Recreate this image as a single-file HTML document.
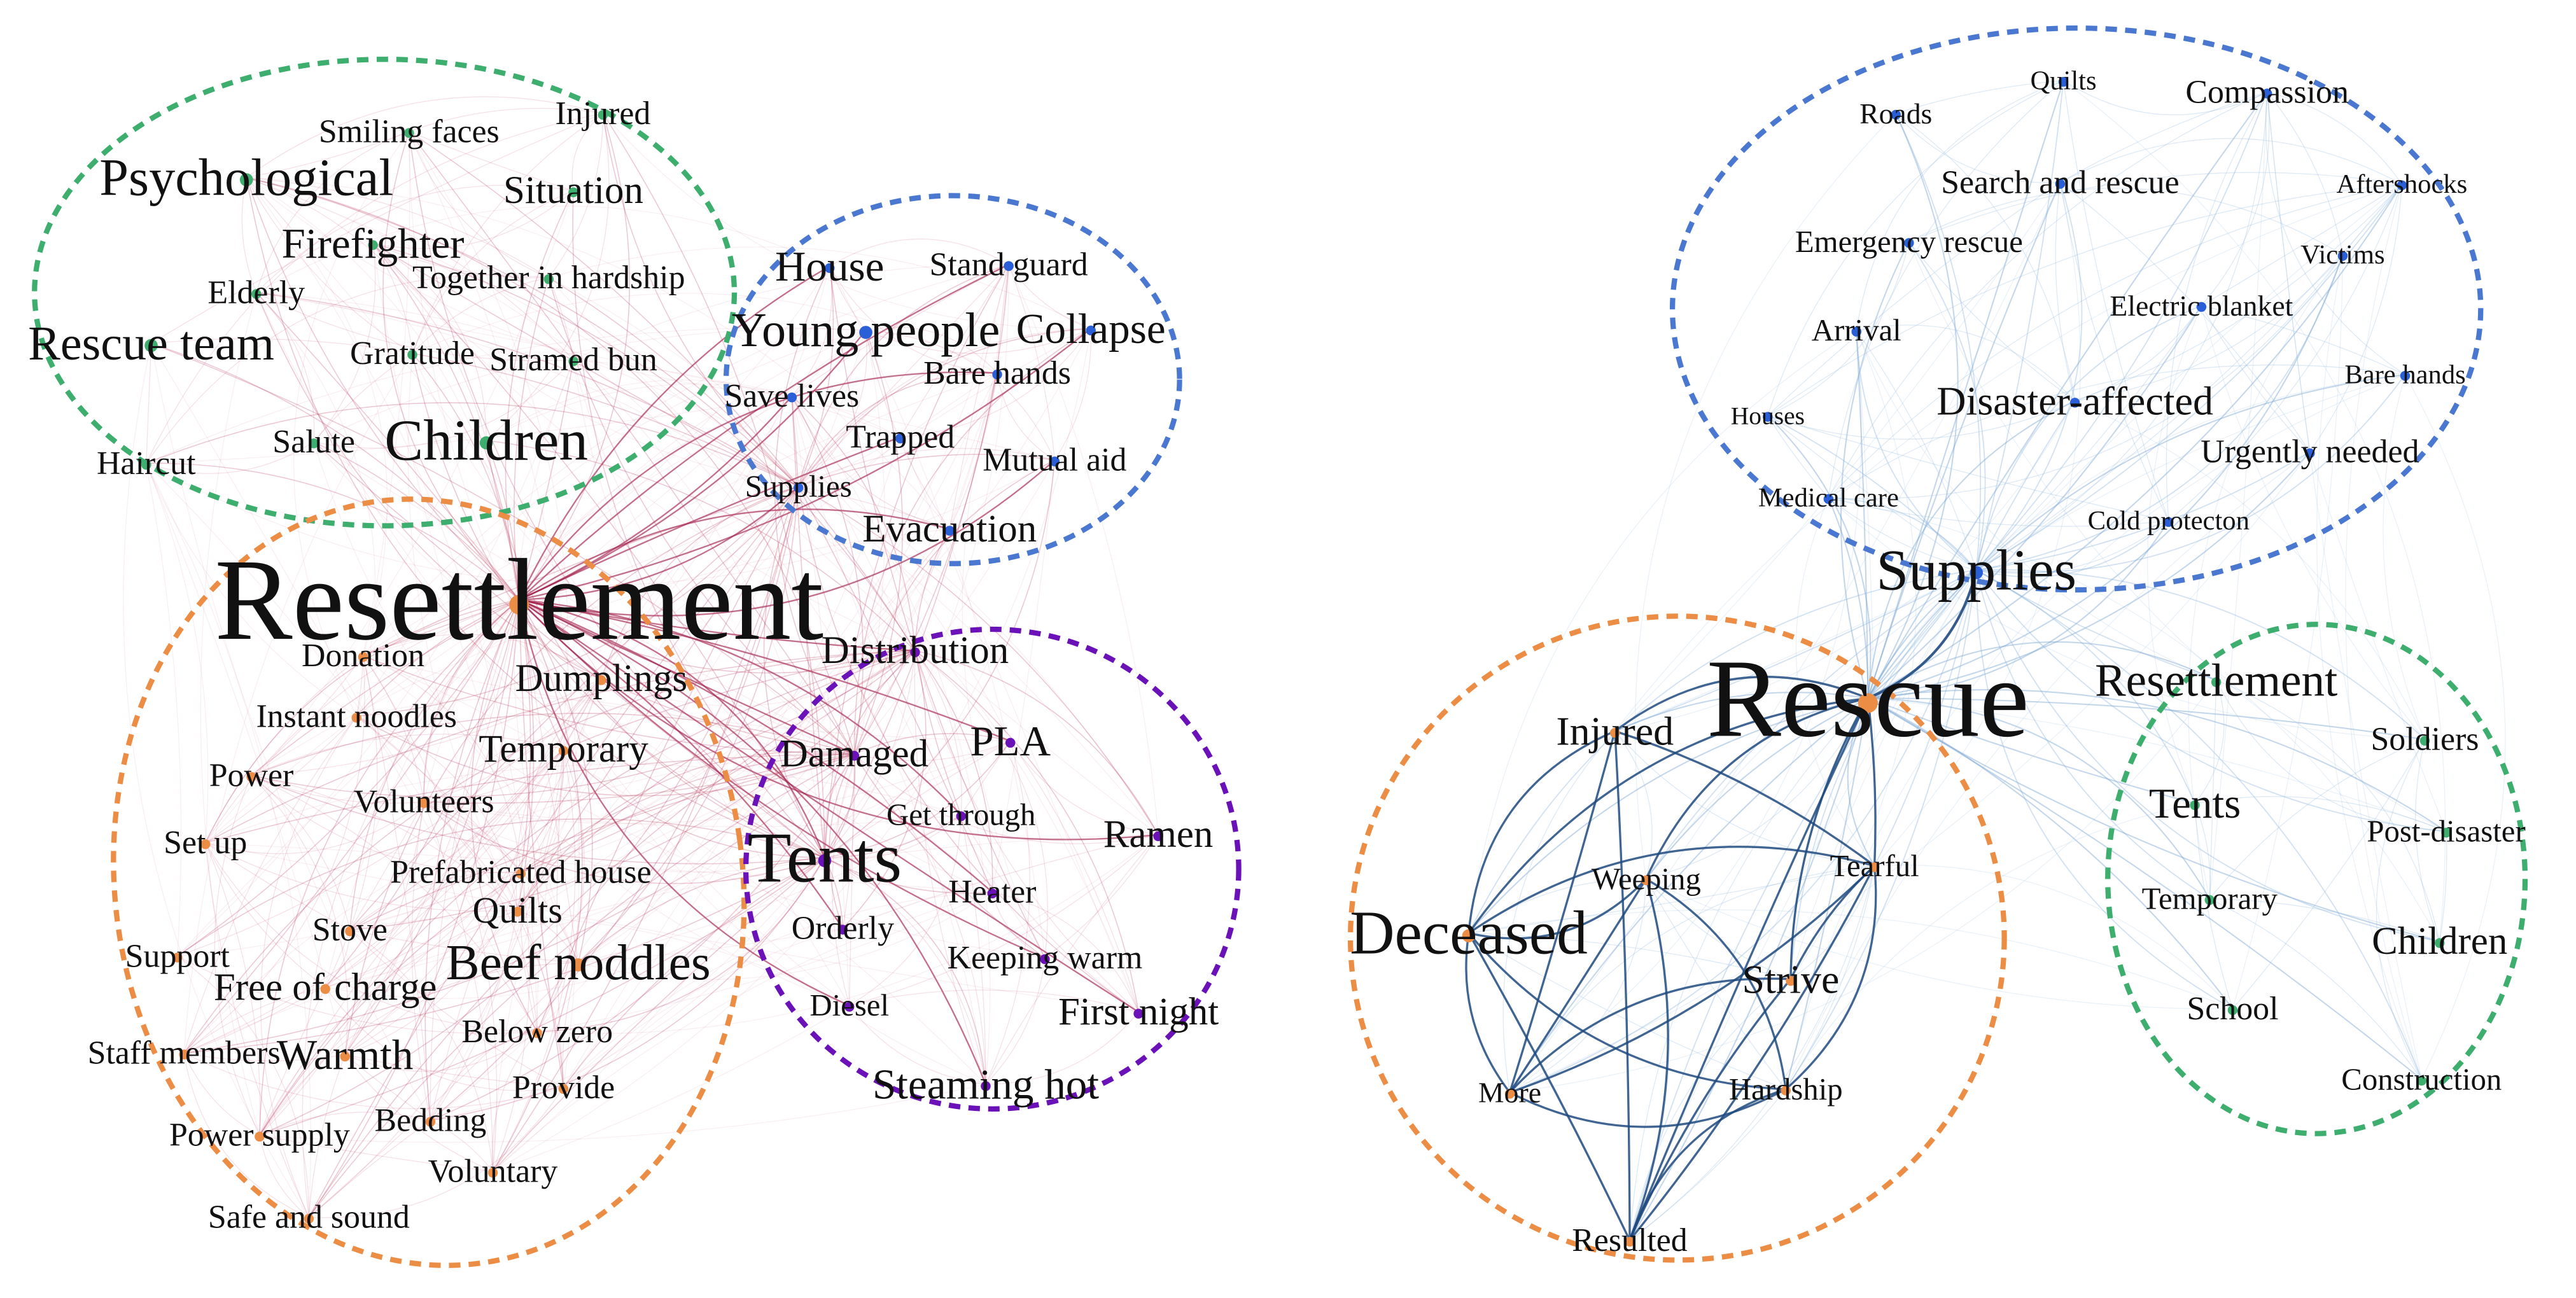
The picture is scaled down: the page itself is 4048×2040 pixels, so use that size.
<!DOCTYPE html>
<html><head><meta charset="utf-8"><style>
html,body{margin:0;padding:0;background:#fff;}
svg{display:block;}
text{font-family:"Liberation Serif",serif;fill:#111;text-anchor:middle;dominant-baseline:central;}
</style></head><body>
<svg id="s" width="4048" height="2040" viewBox="0 0 1568 790" xmlns="http://www.w3.org/2000/svg">
<g id="edges"></g>
<g id="ell" fill="none" stroke-width="3.2" stroke-dasharray="7,5">
<ellipse cx="234" cy="178" rx="213" ry="142" stroke="#3dae6e"/>
<ellipse cx="580" cy="231" rx="138" ry="112" stroke="#4a78d0"/>
<ellipse cx="261" cy="537" rx="191" ry="234" stroke="#ec8d45" transform="rotate(-8 261 537)"/>
<ellipse cx="604" cy="529" rx="150" ry="146" stroke="#6a12b8"/>
<ellipse cx="1264" cy="188" rx="246" ry="171" stroke="#4a78d0"/>
<ellipse cx="1021" cy="571" rx="199" ry="196" stroke="#ec8d45"/>
<ellipse cx="1410" cy="535" rx="127" ry="155" stroke="#3dae6e"/>
</g>
<g id="dots"></g>
<g id="labels"></g>
</svg>
<script>
var L=[
["Smiling faces",249,80,17,"g"],["Injured",367,69,17,"g"],["Psychological",150,108,27,"g"],["Situation",349,116,20,"g"],
["Firefighter",227,148,22,"g"],["Elderly",156,178,17,"g"],["Together in hardship",334,169,17,"g"],["Rescue team",92,209,25,"g"],
["Gratitude",251,215,17,"g"],["Stramed bun",349,219,17,"g"],["Salute",191,269,17,"g"],["Children",296,268,30,"g"],["Haircut",89,282,17,"g"],
["House",505,162,22,"b"],["Stand guard",614,161,17,"b"],["Young people",527,201,25,"b"],["Collapse",664,200,22,"b"],["Bare hands",607,227,17,"b"],
["Save lives",482,241,17,"b"],["Trapped",548,266,17,"b"],["Mutual aid",642,280,17,"b"],["Supplies",486,296,16,"b"],["Evacuation",578,322,20,"b"],
["Resettlement",316,365,60,"o"],["Donation",221,399,17,"o"],["Dumplings",366,413,20,"o"],["Instant noodles",217,436,17,"o"],["Temporary",343,456,20,"o"],
["Power",153,472,17,"o"],["Volunteers",258,488,17,"o"],["Set up",125,513,17,"o"],["Prefabricated house",317,531,17,"o"],["Quilts",315,554,19,"o"],
["Stove",213,566,17,"o"],["Support",108,582,17,"o"],["Beef noddles",352,586,26,"o"],["Free of charge",198,601,20,"o"],["Staff members",112,641,17,"o"],
["Warmth",210,642,22,"o"],["Below zero",327,628,17,"o"],["Provide",343,662,17,"o"],["Bedding",262,682,17,"o"],["Power supply",158,691,17,"o"],
["Voluntary",300,713,17,"o"],["Safe and sound",188,741,17,"o"],
["Distribution",557,396,20,"p"],["Damaged",520,459,20,"p"],["PLA",615,451,22,"p"],["Get through",585,496,16,"p"],["Ramen",705,508,20,"p"],
["Tents",502,522,37,"p"],["Heater",604,543,17,"p"],["Orderly",513,565,17,"p"],["Keeping warm",636,583,17,"p"],["Diesel",517,612,16,"p"],
["First night",693,616,20,"p"],["Steaming hot",600,660,22,"p"]
];
var R=[
["Roads",1154,69,15,"b"],["Quilts",1256,49,14,"b"],["Compassion",1380,56,17,"b"],["Search and rescue",1254,111,17,"b"],["Aftershocks",1462,112,14,"b"],
["Emergency rescue",1162,147,16,"b"],["Victims",1426,155,14,"b"],["Electric blanket",1340,186,15,"b"],["Arrival",1130,201,16,"b"],["Bare hands",1464,228,14,"b"],
["Disaster-affected",1263,244,21,"b"],["Houses",1076,253,13,"b"],["Urgently needed",1406,275,17,"b"],["Medical care",1113,303,14,"b"],["Cold protecton",1320,317,14,"b"],
["Supplies",1203,347,30,"b"],["Rescue",1137,425,58,"o"],["Resettlement",1349,414,24,"g"],["Injured",983,445,21,"o"],["Soldiers",1476,450,17,"g"],
["Tents",1336,489,22,"g"],["Tearful",1141,527,16,"o"],["Weeping",1002,535,16,"o"],["Post-disaster",1489,506,16,"g"],["Temporary",1345,547,16,"g"],
["Deceased",894,568,32,"o"],["Children",1485,573,20,"g"],["Strive",1090,596,21,"o"],["School",1359,614,17,"g"],["Hardship",1087,663,16,"o"],
["More",919,665,15,"o"],["Construction",1474,657,16,"g"],["Resulted",992,755,17,"o"]
];
var col={g:"#3dae6e",b:"#2a5fd8",o:"#ec8d45",p:"#6a12b8"};
var NS="http://www.w3.org/2000/svg";
var seed=7;function rnd(){seed=(seed*16807)%2147483647;return seed/2147483647;}
var E=document.getElementById("edges"),D=document.getElementById("dots"),T=document.getElementById("labels");
function curve(a,b,c,o,w){var mx=(a[1]+b[1])/2,my=(a[2]+b[2])/2,dx=b[1]-a[1],dy=b[2]-a[2];var k=(rnd()-0.5)*0.6;
var p=document.createElementNS(NS,"path");p.setAttribute("d","M"+a[1]+","+a[2]+" Q"+(mx-dy*k)+","+(my+dx*k)+" "+b[1]+","+b[2]);
p.setAttribute("fill","none");p.setAttribute("stroke",c);p.setAttribute("stroke-opacity",o);p.setAttribute("stroke-width",w);E.appendChild(p);}
function byName(arr,n){for(var i=0;i<arr.length;i++)if(arr[i][0]==n)return arr[i];}
var hub=byName(L,"Resettlement");
L.forEach(function(n){if(n!==hub){var dark=(n[4]=="b"||n[4]=="p");curve(hub,n,dark?"#a3214d":"#c04a6a",dark?0.65:0.3,dark?0.9:0.6);}});
for(var i=0;i<L.length;i++)for(var j=i+1;j<L.length;j++){var same=L[i][4]==L[j][4];var pr=same?0.5:0.1;if(rnd()<pr)curve(L[i],L[j],"#c8557a",same?0.18:0.1,0.5);}
["Tents","Distribution","Supplies","Damaged"].forEach(function(h){var a=byName(L,h);L.forEach(function(n){if(n!==a&&rnd()<0.45)curve(a,n,"#b8385e",0.28,0.6);});});
var rh=byName(R,"Rescue"),sh=byName(R,"Supplies");
R.forEach(function(n){if(n!==rh)curve(rh,n,"#7aa3d0",0.45,0.8);if(n!==sh)curve(sh,n,"#8db4dc",0.4,0.7);});
for(var i=0;i<R.length;i++)for(var j=i+1;j<R.length;j++){var same=R[i][4]==R[j][4];if(rnd()<(same?0.45:0.12))curve(R[i],R[j],"#9dbfe0",same?0.35:0.22,0.5);}
var dk=["Rescue","Injured","Weeping","Tearful","Deceased","Strive","Hardship","More","Resulted"];
for(var i=0;i<dk.length;i++)for(var j=i+1;j<dk.length;j++){if(rnd()<0.6){curve(byName(R,dk[i]),byName(R,dk[j]),"#1f4a80",0.85,1.3);}}
curve(rh,sh,"#1f4a80",0.9,1.6);
var S=1.18;
L.concat(R).forEach(function(n){var fs=n[3]*S;if(n[0]=="Resettlement"&&n[3]==60)fs=71;if(n[0]=="Rescue")fs=68;
var c=document.createElementNS(NS,"circle");c.setAttribute("cx",n[1]);c.setAttribute("cy",n[2]+n[3]*0.05);
c.setAttribute("r",n[3]>40?6:(n[3]>24?4:3));c.setAttribute("fill",col[n[4]]);D.appendChild(c);
var t=document.createElementNS(NS,"text");t.setAttribute("x",n[1]);t.setAttribute("y",n[2]);t.setAttribute("font-size",fs.toFixed(1));t.textContent=n[0];T.appendChild(t);});
</script>
</body></html>
